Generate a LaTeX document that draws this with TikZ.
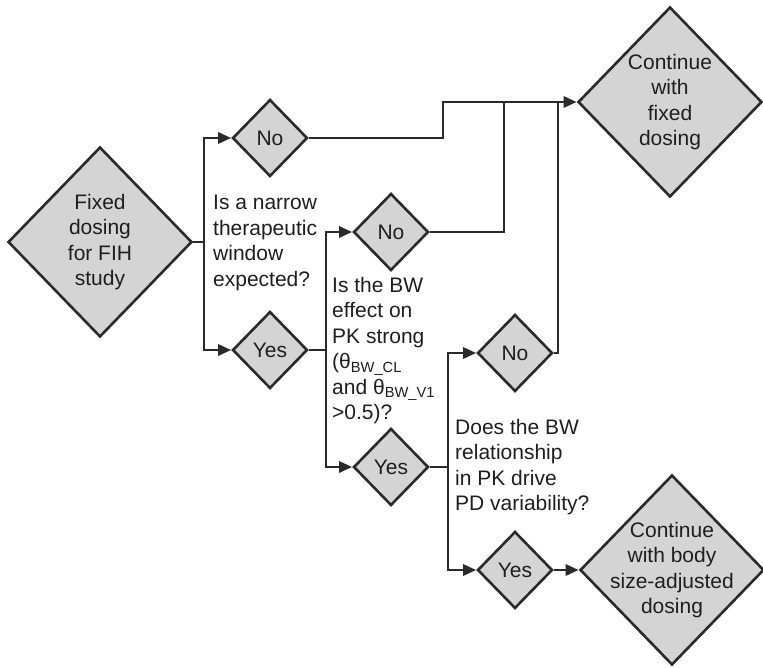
\documentclass[tikz,border=0pt]{standalone}
\usepackage{fontspec}
\setmainfont{Liberation Sans}
\usetikzlibrary{shapes.geometric, arrows.meta}

\definecolor{boxgray}{HTML}{D4D4D4}
\definecolor{linegray}{HTML}{2A2A2A}
\definecolor{textgray}{HTML}{1E1E1E}

\begin{document}
\begin{tikzpicture}[
  x=1pt, y=-1pt,
  font=\fontsize{21}{25.5}\selectfont,
  bigdiamond/.style={
        diamond,
        draw=linegray, fill=boxgray, line width=2.6pt,
        inner sep=0pt, minimum width=184pt, minimum height=190pt
  },
  smalldiamond/.style={
        diamond,
        draw=linegray, fill=boxgray, line width=2.6pt, text=textgray,
        inner sep=0pt, minimum width=75pt, minimum height=77pt
  },
  bigtext/.style={align=center, text=textgray},
  question/.style={anchor=north west, align=left, inner sep=0pt, text=textgray},
  link/.style={draw=linegray, line width=2.8pt},
  arrow/.style={link, -{Triangle[length=13pt, width=11pt]}}
]

    \useasboundingbox (0,0) rectangle (763,668);

    % decision nodes
    \node[bigdiamond, label={[bigtext]center:Fixed\\dosing\\for FIH\\study}] (start) at (100,242) {};
    \node[smalldiamond] (no1) at (270,138) {No};
    \node[smalldiamond] (yes1) at (270,350) {Yes};
    \node[smalldiamond] (no2) at (391,232) {No};
    \node[smalldiamond] (yes2) at (391,467) {Yes};
    \node[smalldiamond] (no3) at (515,353) {No};
    \node[smalldiamond] (yes3) at (515,570) {Yes};
    \node[bigdiamond, label={[bigtext]center:Continue\\with\\fixed\\dosing}] (fixed) at (670,102) {};
    \node[bigdiamond, label={[bigtext]center:Continue\\with body\\size-adjusted\\dosing}] (body) at (672,570) {};

    % questions
    \node[question] (q1) at (213,195) {Is a narrow\\therapeutic\\window\\expected?};
    \node[question] (q2) at (332,277) {Is the BW\\effect on\\PK strong\\(θ\textsubscript{BW\_CL}\\and θ\textsubscript{BW\_V1}\\>0.5)?};
    \node[question] (q3) at (455,419) {Does the BW\\relationship\\in PK drive\\PD variability?};

    % branch points
    \coordinate (b1) at (204,242);
    \coordinate (b2) at (326,350);
    \coordinate (b3) at (448,467);
    \coordinate (k1) at (443,138);
    \coordinate (m2) at (504,102);
    \coordinate (m3) at (558,102);

    \draw[link] (start.east) -- (b1);
    \draw[arrow] (b1) |- (no1.west);
    \draw[arrow] (b1) |- (yes1.west);

    \draw[link] (yes1.east) -- (b2);
    \draw[arrow] (b2) |- (no2.west);
    \draw[arrow] (b2) |- (yes2.west);

    \draw[link] (yes2.east) -- (b3);
    \draw[arrow] (b3) |- (no3.west);
    \draw[arrow] (b3) |- (yes3.west);

    \draw[arrow] (no1.east) -- (k1) |- (fixed.west);
    \draw[link] (no2.east) -| (m2);
    \draw[link] (no3.east) -| (m3);
    \draw[arrow] (yes3.east) -- (body.west);
\end{tikzpicture}
\end{document}
